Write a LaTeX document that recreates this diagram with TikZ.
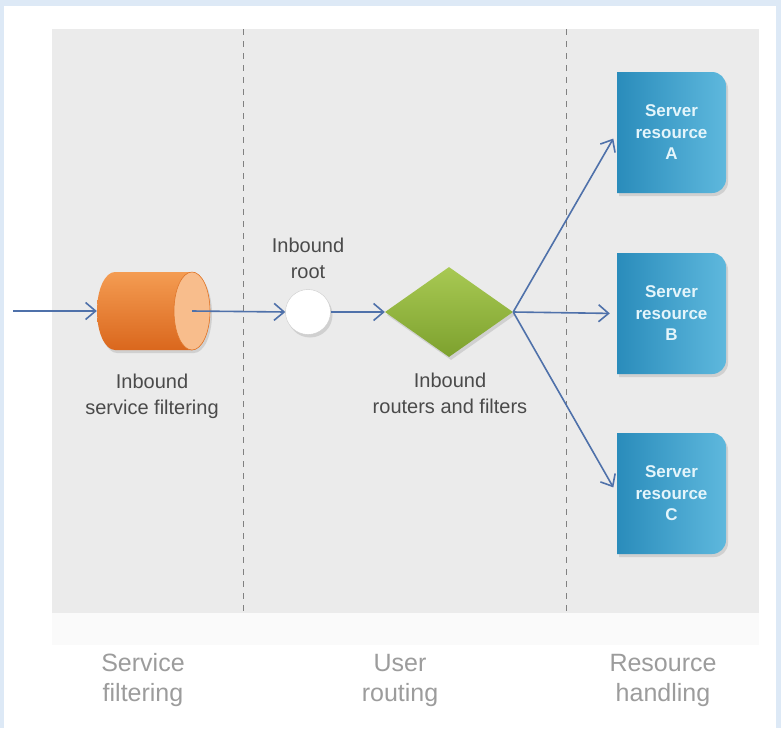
\documentclass[tikz,border=0pt]{standalone}
\usepackage{fontspec}
\setmainfont{Liberation Sans}
\usetikzlibrary{arrows.meta,shapes.geometric,shadows}
\definecolor{frameblue}{HTML}{DDE9F6}
\definecolor{panelgray}{HTML}{EBEBEB}
\definecolor{flowblue}{HTML}{4F71AA}
\definecolor{ortop}{HTML}{F49C52}
\definecolor{orbody}{HTML}{EE7D2E}
\definecolor{orbot}{HTML}{DA671D}
\definecolor{orcap}{HTML}{F8BD8C}
\definecolor{orline}{HTML}{E0762A}
\definecolor{grtop}{HTML}{A8C953}
\definecolor{grbot}{HTML}{7DA12E}
\definecolor{srvleft}{HTML}{2A8CBB}
\definecolor{srvright}{HTML}{5EB8DD}
\definecolor{srvtextcol}{HTML}{E4F5FB}
\definecolor{lbltext}{HTML}{4A4A4A}
\definecolor{lanetext}{HTML}{9C9C9C}
\tikzset{
  flow/.style={draw=flowblue, line width=1.6pt, -{Straight Barb[length=10pt,width=17pt]}},
  soft/.style={drop shadow={opacity=.25, shadow xshift=2pt, shadow yshift=-3pt}},
  lbl/.style={align=center, text=lbltext, font=\fontsize{20}{26}\selectfont},
  lane/.style={align=center, text=lanetext, font=\fontsize{25}{30}\selectfont},
  srvtext/.style={align=center, text=srvtextcol, inner sep=0pt,
    minimum width=109pt, minimum height=121pt,
    font=\bfseries\fontsize{17}{21.5}\selectfont},
  srvfill/.style={left color=srvleft, right color=srvright, soft}
}
\begin{document}
\begin{tikzpicture}[x=1pt,y=-1pt]
  \fill[frameblue] (0,0) rectangle (781,728);
  \fill[white] (4,6) rectangle (776,728);
  \fill[panelgray] (52,29) rectangle (759,613);
  \fill[black!2] (52,613) rectangle (759,645);
  \draw[black!50, dash pattern=on 6pt off 6pt] (243,29) -- (243,613);
  \draw[black!50, dash pattern=on 6pt off 6pt] (566,29) -- (566,613);

  \shade[top color=ortop, middle color=orbody, bottom color=orbot, soft]
    (115,272) -- (192,272) arc[start angle=90,end angle=-90,x radius=18pt,y radius=39pt]
    -- (115,350) arc[start angle=270,end angle=90,x radius=18pt,y radius=39pt] -- cycle;
  \filldraw[fill=orcap, draw=orline, line width=.6pt] (192,311) ellipse[x radius=18pt,y radius=39pt];
  \node[minimum width=113pt, minimum height=78pt, inner sep=0pt] (filt) at (153.5,311) {};
  \node[circle, minimum size=45pt, fill=white, draw=black!20, soft] (root) at (308,312) {};
  \node[diamond, minimum width=128pt, minimum height=90pt, inner sep=0pt,
        top color=grtop, bottom color=grbot, soft] (router) at (449,312) {};

  \foreach \t/\n in {72/A,253/B,433/C}{
    \shade[srvfill] (617,\t) -- ++(95,0) arc[start angle=90,end angle=0,radius=14pt]
      -- ++(0,93) arc[start angle=0,end angle=-90,radius=14pt] -- ++(-95,0) -- cycle;
    \node[srvtext] (srv\n) at (671.5,\t+60.5) {Server\\resource\\\n};
  }

  \node[lbl] (filtlbl) at (152,396) {Inbound\\service filtering};
  \node[lbl] (rootlbl) at (308,258) {Inbound\\root};
  \node[lbl] (routerlbl) at (450,393) {Inbound\\routers and filters};

  \node[lane] (lane1) at (143,680) {Service\\filtering};
  \node[lane] (lane2) at (400,680) {User\\routing};
  \node[lane] (lane3) at (663,680) {Resource\\handling};

  \coordinate (in) at (13,311);
  \draw[flow] (in) -- (filt.west);
  \draw[flow] ([xshift=-18pt]filt.east) -- (root.west);
  \draw[flow] (root.east) -- (router.west);
  \foreach \n in {A,B,C}
    \draw[flow, shorten >=7pt] (router.east) -- (srv\n.west);
\end{tikzpicture}
\end{document}
